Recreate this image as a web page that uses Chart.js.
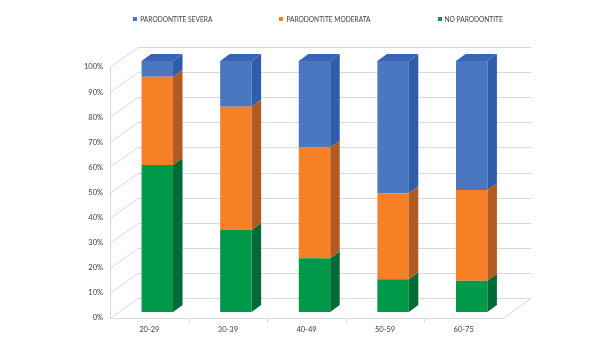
<!DOCTYPE html>
<html>
<head>
<meta charset="utf-8">
<script src="https://cdn.jsdelivr.net/npm/chart.js@4.4.1/dist/chart.umd.min.js"></script>
<style>
  html, body { margin: 0; padding: 0; background: #fff; }
  #wrap { position: relative; width: 606px; height: 341px; }
  #legend {
    position: absolute; left: 30px; right: 0; top: 15px;
    display: flex; justify-content: center; gap: 67px;
    font: 6.6px Lato, "Liberation Sans", sans-serif; color: #404040;
  }
  #legend span.item { display: flex; align-items: center; white-space: nowrap; }
  #legend i { display: inline-block; width: 4px; height: 4px; margin-right: 3px; }
</style>
</head>
<body>
<div id="wrap">
  <canvas id="chart" width="606" height="341"></canvas>
  <div id="legend"></div>
</div>
<script>
const categories = ['20-29', '30-39', '40-49', '50-59', '60-75'];
const noParodontite = [58.6, 32.7, 21.4, 13.0, 12.5];
const parodontiteModerata = [35.1, 49.1, 44.1, 34.3, 36.1];
const parodontiteSevera = [6.3, 18.2, 34.5, 52.7, 51.4];
const yTicks = [0, 10, 20, 30, 40, 50, 60, 70, 80, 90, 100];

// fake 3D: offsets from the bar plane
const BAR_DX = 9.5, BAR_DY = 7;
const FRONT_DX = -8, FRONT_DY = 6;
const BACK_DX = 20, BACK_DY = -14;
const FONT = 'Lato, "Liberation Sans", sans-serif';

function poly(ctx, pts) {
    ctx.beginPath();
    ctx.moveTo(pts[0][0], pts[0][1]);
    pts.slice(1).forEach(p => ctx.lineTo(p[0], p[1]));
    ctx.closePath();
    ctx.fill();
}

// walls + floor behind the bars
const walls = {
    id: 'walls',
    beforeDatasetsDraw(chart) {
        const { ctx, chartArea: a, scales: { x, y } } = chart;
        const fl = a.left + FRONT_DX, fr = a.right + FRONT_DX;
        const bl = a.left + BACK_DX, br = a.right + BACK_DX;
        ctx.save();
        ctx.strokeStyle = '#d9d9d9';
        ctx.lineWidth = 1;
        ctx.beginPath();
        yTicks.forEach(v => {
            const py = Math.round(y.getPixelForValue(v)) + 0.5;
            ctx.moveTo(fl, py + FRONT_DY);
            ctx.lineTo(bl, py + BACK_DY);
            ctx.lineTo(br, py + BACK_DY);
        });
        const y0 = Math.round(y.getPixelForValue(0)) + 0.5;
        const y100 = Math.round(y.getPixelForValue(100)) + 0.5;
        ctx.moveTo(Math.round(fl) + 0.5, y100 + FRONT_DY);
        ctx.lineTo(Math.round(fl) + 0.5, y0 + FRONT_DY);
        ctx.moveTo(fl, y0 + FRONT_DY);
        ctx.lineTo(fr, y0 + FRONT_DY);
        ctx.lineTo(br, y0 + BACK_DY);
        for (let i = 1; i < categories.length; i++) {
            const px = Math.round(x.getPixelForValue(i - 0.5) + FRONT_DX) + 0.5;
            ctx.moveTo(px, y0 + FRONT_DY);
            ctx.lineTo(px, y0 + FRONT_DY + 4);
        }
        ctx.stroke();
        ctx.restore();
    },
    // side and top faces of the bars
    afterDatasetsDraw(chart) {
        const { ctx } = chart;
        const n = chart.data.datasets.length;
        ctx.save();
        chart.data.datasets.forEach((ds, di) => {
            chart.getDatasetMeta(di).data.forEach(bar => {
                const { x, y, base, width } = bar.getProps(['x', 'y', 'base', 'width'], true);
                const l = x - width / 2, r = x + width / 2;
                ctx.fillStyle = ds.sideColor;
                poly(ctx, [[r, y], [r + BAR_DX, y - BAR_DY], [r + BAR_DX, base - BAR_DY], [r, base]]);
                if (di === n - 1) {
                    ctx.fillStyle = ds.topColor;
                    poly(ctx, [[l, y], [l + BAR_DX, y - BAR_DY], [r + BAR_DX, y - BAR_DY], [r, y]]);
                }
            });
        });
        ctx.restore();
    }
};

const chart = new Chart(document.getElementById('chart'), {
    type: 'bar',
    data: {
        labels: categories,
        datasets: [
            { label: 'NO PARODONTITE', data: noParodontite, backgroundColor: '#00994a', sideColor: '#006b34', topColor: '#00803e' },
            { label: 'PARODONTITE MODERATA', data: parodontiteModerata, backgroundColor: '#f58025', sideColor: '#b35a22', topColor: '#d96d22' },
            { label: 'PARODONTITE SEVERA', data: parodontiteSevera, backgroundColor: '#4a77c0', sideColor: '#2f5dab', topColor: '#3965b6' },
        ],
    },
    options: {
        responsive: false,
        animation: false,
        layout: { padding: { top: 61, left: 30, right: 0, bottom: 0 } },
        datasets: { bar: { barPercentage: 0.4, categoryPercentage: 1.0, borderWidth: 0 } },
        plugins: { legend: { display: false }, tooltip: { enabled: false } },
        scales: {
            x: {
                stacked: true,
                grid: { display: false, drawTicks: false },
                border: { display: false },
                ticks: { padding: 13, labelOffset: FRONT_DX, color: '#404040', font: { family: FONT, size: 7.5 } },
                afterFit: s => { s.height = 29; },
            },
            y: {
                stacked: true,
                min: 0,
                max: 100,
                grid: { display: false, drawTicks: false },
                border: { display: false },
                ticks: {
                    stepSize: 10, padding: 15, labelOffset: FRONT_DY,
                    color: '#404040', font: { family: FONT, size: 7.5 },
                    callback: v => v + '%',
                },
                afterFit: s => { s.width = 88; },
            },
            right: {
                type: 'linear',
                position: 'right',
                grid: { display: false, drawTicks: false },
                border: { display: false },
                ticks: { display: false },
                afterFit: s => { s.width = 95; },
            },
        },
    },
    plugins: [walls],
});

// legend in the Excel order (top series first)
const legend = document.getElementById('legend');
chart.data.datasets.slice().reverse().forEach(ds => {
    const item = document.createElement('span');
    item.className = 'item';
    const box = document.createElement('i');
    box.style.background = ds.backgroundColor;
    item.appendChild(box);
    item.appendChild(document.createTextNode(ds.label));
    legend.appendChild(item);
});
</script>
</body>
</html>
